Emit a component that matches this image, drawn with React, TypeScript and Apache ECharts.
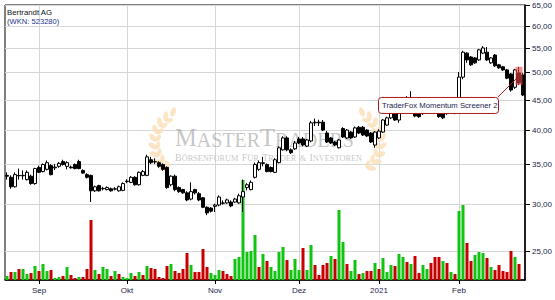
import React, { useEffect, useRef } from "react";
import * as echarts from "echarts";

// ---------- data ----------
const stockName = "Bertrandt AG";
const stockId = "(WKN: 523280)";
const annotationText = "TraderFox Momentum Screener 2";
const watermarkMain = "{b|M}{s|ASTER}{b|T}{s|RADERS}";
const watermarkSub = "{b|B}{s|ÖRSENFORUM} {b|F}{s|ÜR} {b|T}{s|RADER} {s|&} {b|I}{s|NVESTOREN}";

const monthNames = ["Jan", "Feb", "Mär", "Apr", "Mai", "Jun", "Jul", "Aug", "Sep", "Okt", "Nov", "Dez"];
const firstDay = "2020-08-20";
const lastDay = "2021-02-23";
const exchangeHolidays = ["2020-12-24", "2020-12-25", "2020-12-31", "2021-01-01"];

const priceTicks = [25, 30, 35, 40, 45, 50, 55, 60, 65];
const priceMin = 22.3;
const priceMax = 65;
const volumeMax = 275;
const annotatedIndex = 128;

const opens = [
  33.5, 33.25, 32.05, 33.5, 33.45, 32.95, 33.4, 32.45, 34.55, 34.0,
  34.3, 34.8, 34.5, 34.7, 35.35, 34.7, 34.6, 34.95, 35.35, 34.15,
  33.6, 33.5, 31.55, 32.2, 31.8, 31.7, 31.8, 31.75, 31.55, 31.6,
  32.7, 32.6, 33.25, 32.3, 33.5, 33.5, 35.6, 35.3, 35.2, 34.95,
  34.55, 32.3, 33.4, 31.95, 31.7, 31.3, 30.55, 31.7, 31.2, 30.7,
  29.6, 29.5, 29.7, 29.85, 30.05, 30.1, 30.2, 30.2, 30.1, 30.8,
  31.95, 31.7, 33.25, 34.3, 35.1, 34.95, 34.55, 33.9, 35.2, 37.0,
  38.75, 37.0, 37.15, 38.6, 38.6, 37.55, 38.3, 41.1, 41.2, 41.2,
  39.5, 38.75, 38.15, 37.3, 40.2, 38.75, 39.65, 38.9, 40.4, 40.4,
  39.96, 39.5, 37.7, 38.75, 39.65, 40.75, 41.9, 42.7, 41.55, 43.2,
  44.9, 43.7, 44.05, 43.5, 42.9, 42.7, 43.4, 44.05, 43.2, 42.9,
  42.6, 43.0, 43.0, 44.9, 49.1, 53.9, 53.1, 52.9, 52.5, 53.9,
  54.1, 51.9, 53.5, 51.5, 51.1, 50.5, 49.7, 47.2, 49.9, 49.5,
];
const closes = [
  33.4, 32.05, 33.6, 33.45, 33.5, 33.9, 32.45, 34.4, 33.9, 34.95,
  35.2, 33.6, 34.6, 35.1, 34.95, 35.2, 34.5, 34.4, 34.4, 33.8,
  33.25, 31.55, 32.05, 31.55, 31.85, 31.95, 31.55, 31.8, 32.05, 32.45,
  32.75, 33.25, 32.3, 33.9, 34.0, 36.0, 35.2, 35.35, 34.7, 34.3,
  31.95, 33.4, 31.7, 31.45, 31.3, 30.45, 31.45, 31.3, 30.45, 29.6,
  28.95, 29.15, 29.85, 30.8, 30.1, 30.45, 29.75, 30.55, 30.95, 31.45,
  32.3, 32.6, 34.95, 35.2, 35.2, 34.0, 34.0, 35.6, 37.3, 38.75,
  37.0, 36.6, 38.0, 38.0, 37.7, 38.45, 41.1, 41.2, 41.1, 39.96,
  38.15, 38.0, 37.7, 38.45, 38.9, 39.96, 38.75, 40.3, 39.5, 39.2,
  39.05, 38.15, 39.65, 39.8, 41.55, 41.9, 43.2, 41.55, 42.9, 44.9,
  43.9, 44.9, 42.2, 42.1, 42.6, 43.5, 44.2, 42.9, 42.1, 41.9,
  43.4, 43.9, 42.7, 49.1, 54.1, 52.5, 51.5, 51.9, 54.6, 55.0,
  52.5, 52.9, 51.3, 50.9, 50.5, 48.9, 46.7, 50.5, 48.0, 45.8,
];
const highs = [
  33.9, 33.5, 33.9, 34.4, 34.15, 34.15, 33.6, 34.5, 34.8, 35.1,
  35.5, 35.0, 35.0, 35.3, 35.6, 35.4, 34.8, 35.1, 35.6, 34.3,
  33.8, 33.6, 32.2, 32.3, 32.05, 32.1, 31.95, 32.0, 32.2, 32.6,
  33.0, 33.4, 33.4, 34.0, 34.2, 36.3, 36.0, 35.8, 35.4, 35.1,
  34.7, 33.5, 33.6, 32.1, 31.8, 31.5, 32.6, 31.8, 31.4, 30.8,
  29.7, 29.6, 30.0, 31.0, 30.4, 30.6, 30.4, 30.7, 31.2, 32.95,
  32.5, 32.85, 35.2, 35.5, 36.0, 35.1, 34.7, 35.8, 37.5, 39.0,
  39.0, 37.2, 38.3, 38.9, 38.9, 38.6, 41.4, 41.8, 41.6, 41.55,
  39.8, 38.9, 38.3, 38.6, 40.4, 40.1, 39.8, 40.5, 40.6, 40.6,
  40.1, 39.65, 39.8, 40.1, 41.7, 42.1, 43.4, 42.9, 43.0, 45.4,
  45.6, 46.5, 44.3, 43.7, 43.0, 43.7, 44.4, 44.3, 43.4, 43.0,
  43.6, 44.1, 43.2, 50.1, 54.4, 54.1, 53.3, 53.1, 54.8, 55.4,
  55.2, 53.1, 53.7, 51.7, 51.3, 50.7, 49.9, 50.7, 51.1, 49.9,
];
const lows = [
  32.95, 31.8, 31.95, 32.95, 32.95, 32.85, 32.3, 32.3, 33.8, 33.9,
  34.15, 33.5, 34.2, 34.5, 34.8, 34.3, 34.4, 34.3, 34.3, 33.7,
  33.1, 30.2, 31.4, 31.45, 31.6, 31.6, 31.45, 31.6, 31.45, 31.5,
  32.5, 32.5, 32.2, 32.2, 33.4, 33.4, 35.0, 35.0, 34.5, 34.1,
  31.8, 32.1, 31.5, 31.3, 31.2, 30.3, 30.4, 31.1, 30.3, 29.5,
  28.7, 29.0, 29.05, 29.7, 29.9, 30.0, 29.6, 30.1, 30.0, 29.05,
  31.6, 31.6, 33.1, 34.1, 34.7, 33.9, 33.9, 33.8, 35.1, 36.9,
  36.8, 36.4, 37.0, 37.85, 37.5, 37.4, 38.1, 40.6, 40.6, 39.8,
  38.0, 37.85, 37.55, 37.2, 38.75, 38.6, 38.6, 38.75, 39.35, 39.05,
  38.9, 38.0, 37.3, 38.6, 39.5, 40.6, 41.7, 41.4, 41.1, 43.0,
  43.7, 43.5, 42.0, 41.9, 42.4, 42.6, 43.2, 42.7, 41.9, 41.7,
  42.4, 42.9, 42.5, 44.7, 48.7, 51.9, 51.3, 51.7, 52.3, 53.7,
  52.3, 51.7, 51.1, 50.7, 50.3, 48.7, 46.4, 46.9, 47.6, 45.6,
];
// volume (Tsd. Stück), last day not yet reported
const volumes: (number | null)[] = [
  4, 8, 8, 11, 11, 6, 7, 14, 9, 16,
  9, 10, 2, 3, 4, 13, 5, 2, 3, 3,
  11, 60, 10, 6, 13, 11, 4, 9, 6, 3,
  2, 7, 4, 8, 5, 14, 12, 11, 3, 2,
  14, 16, 9, 7, 11, 27, 15, 8, 8, 31,
  13, 7, 5, 10, 9, 6, 4, 21, 23, 100,
  28, 29, 45, 13, 26, 19, 13, 9, 28, 33,
  20, 10, 21, 10, 32, 10, 35, 15, 5, 15,
  17, 24, 21, 70, 38, 16, 9, 20, 6, 7,
  9, 9, 17, 11, 22, 8, 15, 14, 26, 23,
  18, 16, 24, 7, 15, 11, 17, 23, 23, 19,
  17, 8, 6, 69, 75, 37, 19, 25, 28, 27,
  22, 13, 10, 15, 9, 8, 29, 23, 16, null,
];
// g = rising volume bar, r = falling
const volumeDirections = [
  "grgrg", "grgrg", "grggr", "grrgr", "rrgrg", "grgrg", "ggrgr", "grrrr", "rgrrr",
  "rgrrr", "rgggr", "rrggg", "gggrg", "rgggg", "rgggr", "ggrrr", "rgrgg", "rggrg", "r",
  "rgrg", "ggrgg", "rgrrg", "grrrg", "rgrgg", "rrggg", "rgrrr", "rrgrr",
].join("");

// ---------- helpers ----------
function tradingDays(): string[] {
  const out: string[] = [];
  const [y0, m0, d0] = firstDay.split("-").map(Number);
  const end = new Date(lastDay + "T00:00:00Z").getTime();
  const d = new Date(Date.UTC(y0, m0 - 1, d0));
  while (d.getTime() <= end) {
    const wd = d.getUTCDay();
    const s = d.toISOString().slice(0, 10);
    if (wd !== 0 && wd !== 6 && !exchangeHolidays.includes(s)) out.push(s);
    d.setUTCDate(d.getUTCDate() + 1);
  }
  return out;
}

const FONT = "'Liberation Sans', Arial, sans-serif";
const SERIF = "'Liberation Serif', 'Times New Roman', serif";

// decorative laurel branch of the watermark
function laurel(cx: number, cy: number, r: number, side: number): any[] {
  const leaves: any[] = [];
  const color = "#fadfb6";
  for (let k = 0; k <= 8; k++) {
    const t = ((125 + k * 14.5) * Math.PI) / 180;
    const px = side < 0 ? cx + r * Math.cos(t) : cx - r * Math.cos(t);
    const py = cy + r * Math.sin(t);
    const dx0 = side < 0 ? -Math.sin(t) : Math.sin(t);
    const dy0 = Math.cos(t);
    const nx = side < 0 ? Math.cos(t) : -Math.cos(t);
    const ny = Math.sin(t);
    const mk = (a: number, L: number, w: number) => {
      let dx = dx0 + a * nx;
      let dy = dy0 + a * ny;
      const n = Math.hypot(dx, dy);
      dx /= n;
      dy /= n;
      const mx = px + dx * L * 0.5;
      const my = py + dy * L * 0.5;
      return {
        type: "polygon",
        z: 1,
        silent: true,
        shape: {
          points: [
            [px, py],
            [mx - dy * w, my + dx * w],
            [px + dx * L, py + dy * L],
            [mx + dy * w, my - dx * w],
          ],
          smooth: 0.5,
        },
        style: { fill: color, opacity: 0.8 },
      };
    };
    leaves.push(mk(0.9, 10, 2.6));
    if (k < 8) leaves.push(mk(-0.6, 8, 2.2));
  }
  return leaves;
}

function buildOption() {
  const days = tradingDays();
  const monthStarts: number[] = [];
  for (let i = 1; i < days.length; i++) {
    if (days[i].slice(5, 7) !== days[i - 1].slice(5, 7)) monthStarts.push(i);
  }
  const startSet = new Set(monthStarts);
  const labelOf = (s: string) => {
    const m = Number(s.slice(5, 7));
    return m === 1 ? s.slice(0, 4) : monthNames[m - 1];
  };

  const candles = opens.map((o, i) => [
    Math.log(o),
    Math.log(closes[i]),
    Math.log(lows[i]),
    Math.log(highs[i]),
  ]);
  const volumeData = volumes.map((v, i) => ({
    value: v == null ? "-" : v,
    itemStyle: { color: volumeDirections[i] === "g" ? "#12c412" : "#c80000" },
  }));

  const priceGrid = {
    type: "custom",
    z: 0,
    silent: true,
    clip: false,
    xAxisIndex: 0,
    yAxisIndex: 0,
    data: priceTicks.map((v) => [0, Math.log(v), v]),
    renderItem: (params: any, api: any) => {
      const cs = params.coordSys;
      const y = Math.round(api.coord([0, api.value(1)])[1]) + 0.5;
      const right = cs.x + cs.width;
      return {
        type: "group",
        children: [
          { type: "line", shape: { x1: cs.x, y1: y, x2: right, y2: y }, style: { stroke: "#d6d6d6", lineWidth: 1 } },
          { type: "line", shape: { x1: right, y1: y, x2: right + 5, y2: y }, style: { stroke: "#000", lineWidth: 1 } },
          {
            type: "text",
            x: right + 7,
            y: y,
            style: {
              text: Number(api.value(2)).toFixed(2).replace(".", ","),
              fontSize: 8,
              fontFamily: FONT,
              fill: "#1c1c48",
              verticalAlign: "middle",
              align: "left",
            },
          },
        ],
      };
    },
  };

  const monthGrid = {
    type: "custom",
    z: 0,
    silent: true,
    clip: false,
    xAxisIndex: 0,
    yAxisIndex: 0,
    data: monthStarts.map((i) => [i, Math.log(40)]),
    renderItem: (params: any, api: any) => {
      const cs = params.coordSys;
      const x = Math.round(api.coord([api.value(0), api.value(1)])[0]) + 0.5;
      return {
        type: "line",
        shape: { x1: x, y1: cs.y, x2: x, y2: cs.y + cs.height },
        style: { stroke: "#d6d6d6", lineWidth: 1 },
      };
    },
  };

  const annotation = {
    type: "custom",
    z: 6,
    silent: true,
    clip: false,
    xAxisIndex: 0,
    yAxisIndex: 0,
    data: [[annotatedIndex, Math.log(closes[annotatedIndex])]],
    renderItem: (params: any, api: any) => {
      const idx = api.value(0);
      const top = api.coord([idx, Math.log(highs[idx])]);
      const bot = api.coord([idx, Math.log(lows[idx])]);
      const cx = top[0];
      const ay = (top[1] + bot[1]) / 2;
      const bx = cx - 141;
      const by = ay + 21;
      return {
        type: "group",
        children: [
          {
            type: "rect",
            shape: { x: cx - 3.5, y: top[1], width: 7, height: bot[1] - top[1] },
            style: { fill: "rgba(236,70,70,0.6)" },
          },
          { type: "line", shape: { x1: bx + 120, y1: by, x2: cx, y2: ay }, style: { stroke: "#a81818", lineWidth: 1 } },
          {
            type: "rect",
            shape: { x: bx + 0.5, y: by + 0.5, width: 120, height: 16, r: 3 },
            style: { fill: "#fff", stroke: "#a81818", lineWidth: 1 },
          },
          {
            type: "text",
            x: bx + 4,
            y: by + 9,
            style: {
              text: annotationText,
              fontSize: 7.7,
              fontFamily: FONT,
              fill: "#1c1c50",
              verticalAlign: "middle",
              align: "left",
            },
          },
        ],
      };
    },
  };

  const wmColor = "rgba(160,160,160,0.6)";
  const graphics: any[] = [
    ...laurel(186, 143, 30, -1),
    ...laurel(349, 143, 30, 1),
    {
      type: "text",
      z: 1,
      silent: true,
      x: 175,
      y: 150,
      style: {
        text: watermarkMain,
        verticalAlign: "bottom",
        align: "left",
        rich: {
          b: { fontSize: 24.5, fontFamily: SERIF, fill: wmColor, verticalAlign: "bottom" },
          s: { fontSize: 20, fontFamily: SERIF, fill: wmColor, verticalAlign: "bottom" },
        },
      },
    },
    {
      type: "text",
      z: 1,
      silent: true,
      x: 175,
      y: 162,
      style: {
        text: watermarkSub,
        verticalAlign: "bottom",
        align: "left",
        rich: {
          b: { fontSize: 10, fontFamily: SERIF, fill: wmColor, verticalAlign: "bottom" },
          s: { fontSize: 8.3, fontFamily: SERIF, fill: wmColor, verticalAlign: "bottom" },
        },
      },
    },
    {
      type: "text",
      z: 10,
      x: 7,
      y: 12,
      style: { text: stockName, fontSize: 7.8, fontFamily: FONT, fill: "#101020", verticalAlign: "middle" },
    },
    {
      type: "text",
      z: 10,
      x: 7,
      y: 21.5,
      style: { text: stockId, fontSize: 7.6, fontFamily: FONT, fill: "#23308a", verticalAlign: "middle" },
    },
  ];

  return {
    animation: false,
    backgroundColor: "#fff",
    grid: {
      left: 5,
      right: 30,
      top: 5,
      bottom: 20,
      show: true,
      borderColor: "#000",
      borderWidth: 1,
      backgroundColor: "transparent",
    },
    xAxis: {
      type: "category",
      data: days,
      boundaryGap: true,
      axisLine: { show: true, lineStyle: { color: "#000", width: 1.5 } },
      axisTick: {
        show: true,
        alignWithLabel: true,
        interval: (i: number) => startSet.has(i),
        length: 4,
        lineStyle: { color: "#000" },
      },
      axisLabel: {
        interval: (i: number) => startSet.has(i),
        formatter: (v: string) => labelOf(v),
        fontSize: 8,
        fontFamily: FONT,
        color: "#1c1c48",
        margin: 6,
      },
      splitLine: { show: false },
    },
    yAxis: [
      {
        type: "value",
        position: "right",
        min: Math.log(priceMin),
        max: Math.log(priceMax),
        axisLine: { show: true, lineStyle: { color: "#000", width: 1.5 } },
        axisTick: { show: false },
        axisLabel: { show: false },
        splitLine: { show: false },
      },
      {
        type: "value",
        min: 0,
        max: volumeMax,
        show: false,
        splitLine: { show: false },
      },
    ],
    graphic: graphics,
    series: [
      monthGrid,
      priceGrid,
      {
        type: "bar",
        z: 2,
        xAxisIndex: 0,
        yAxisIndex: 1,
        barWidth: 3,
        silent: true,
        data: volumeData,
      },
      {
        type: "candlestick",
        z: 4,
        xAxisIndex: 0,
        yAxisIndex: 0,
        barWidth: 3,
        silent: true,
        data: candles,
        itemStyle: {
          color: "#ffffff",
          color0: "#000000",
          borderColor: "#000000",
          borderColor0: "#000000",
          borderWidth: 1,
        },
      },
      annotation,
    ],
  };
}

export default function App() {
  const ref = useRef<HTMLDivElement>(null);
  useEffect(() => {
    if (!ref.current) return;
    const chart = echarts.init(ref.current, null, { renderer: "svg" });
    chart.setOption(buildOption() as any);
    return () => chart.dispose();
  }, []);
  return (
    <div
      ref={ref}
      style={{ position: "absolute", left: 0, top: 0, width: 555, height: 300, background: "#fff" }}
    />
  );
}
